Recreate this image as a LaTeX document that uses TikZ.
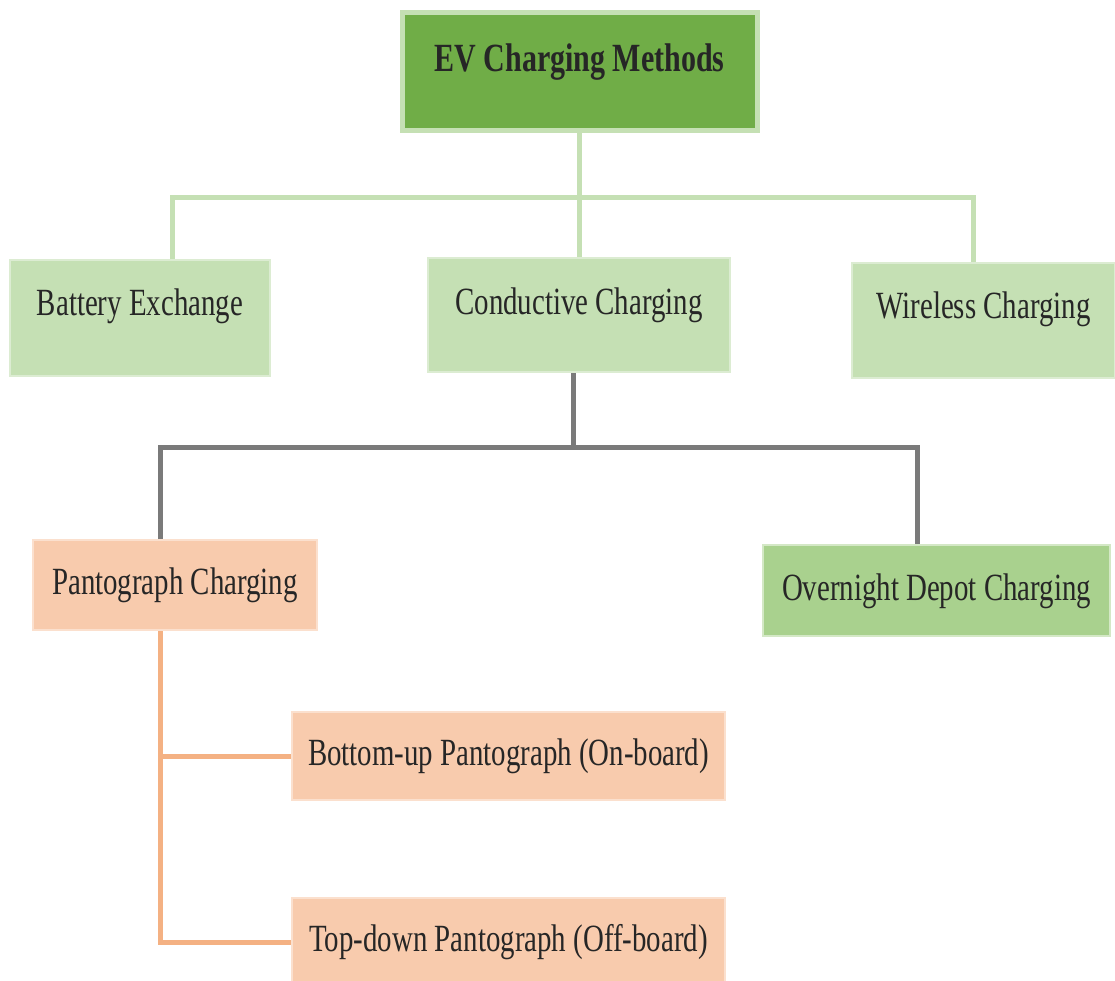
\documentclass[tikz,border=0pt]{standalone}
\usepackage{fontspec}
\setmainfont{Liberation Serif}[FakeStretch=0.75]
\definecolor{topgreen}{HTML}{70AD47}
\definecolor{lightgreen}{HTML}{C5E0B4}
\definecolor{midgreen}{HTML}{A9D18E}
\definecolor{peach}{HTML}{F8CBAD}
\definecolor{orangeline}{HTML}{F4B183}
\definecolor{greyline}{HTML}{7A7A7A}
\begin{document}
\begin{tikzpicture}[x=1pt,y=-1pt,
  box/.style={inner sep=0pt, font=\fontsize{38.5}{40}\selectfont, text=black!85, text height=27pt, text depth=8pt},
  lift/.style={text depth=#1},
  topbox/.style={box, fill=topgreen, draw=lightgreen, line width=5pt, font=\fontsize{40}{42}\selectfont\bfseries},
  lgbox/.style={box, fill=lightgreen, draw=lightgreen!60!white, line width=2pt},
  mgbox/.style={box, fill=midgreen, draw=midgreen!50!white, line width=2pt},
  pbox/.style={box, fill=peach, draw=peach!60!white, line width=2pt},
  gline/.style={draw=lightgreen, line width=5pt},
  grline/.style={draw=greyline, line width=5pt},
  oline/.style={draw=orangeline, line width=5pt}]
\useasboundingbox (0,0) rectangle (1115,980);
\fill[white] (0,0) rectangle (1115,980);
\coordinate (gl) at (172,197);
\coordinate (gr) at (973,197);
\coordinate (gyl) at (160,447);
\coordinate (gyr) at (917,447);
\coordinate (gyc) at (573,447);
\coordinate (ob) at (160,756);
\coordinate (ot) at (160,942);
% nodes
\node[topbox, lift=26pt, minimum width=355, minimum height=118] (top) at (579.5,71) {EV Charging Methods};
\node[lgbox, lift=32pt, minimum width=260, minimum height=116] (battery) at (140,318) {Battery Exchange};
\node[lgbox, lift=28pt, minimum width=302, minimum height=114] (cond) at (579,315) {Conductive Charging};
\node[lgbox, lift=32pt, minimum width=263, minimum height=115] (wireless) at (983.5,320.5) {Wireless Charging};
\node[pbox, minimum width=284, minimum height=90] (panto) at (175,585) {Pantograph Charging};
\node[mgbox, minimum width=347, minimum height=91] (depot) at (936.5,590.5) {Overnight Depot Charging};
\node[pbox, minimum width=433, minimum height=88] (bottomup) at (508.5,756) {Bottom-up Pantograph (On-board)};
\node[pbox, minimum width=433, minimum height=88] (topdown) at (508.5,942) {Top-down Pantograph (Off-board)};
% green connectors
\draw[gline] (top.south -| cond.north) -- (cond.north);
\draw[gline] (battery.north -| gl) -- (gl) -- (gr) -- (wireless.north -| gr);
% grey connectors
\draw[grline] (cond.south -| gyc) -- (gyc);
\draw[grline] (panto.north -| gyl) -- (gyl) -- (gyr) -- (depot.north -| gyr);
% orange connectors
\draw[oline] (panto.south -| ob) -- (ot) -- (topdown.west);
\draw[oline] (ob) -- (bottomup.west);
\end{tikzpicture}
\end{document}
